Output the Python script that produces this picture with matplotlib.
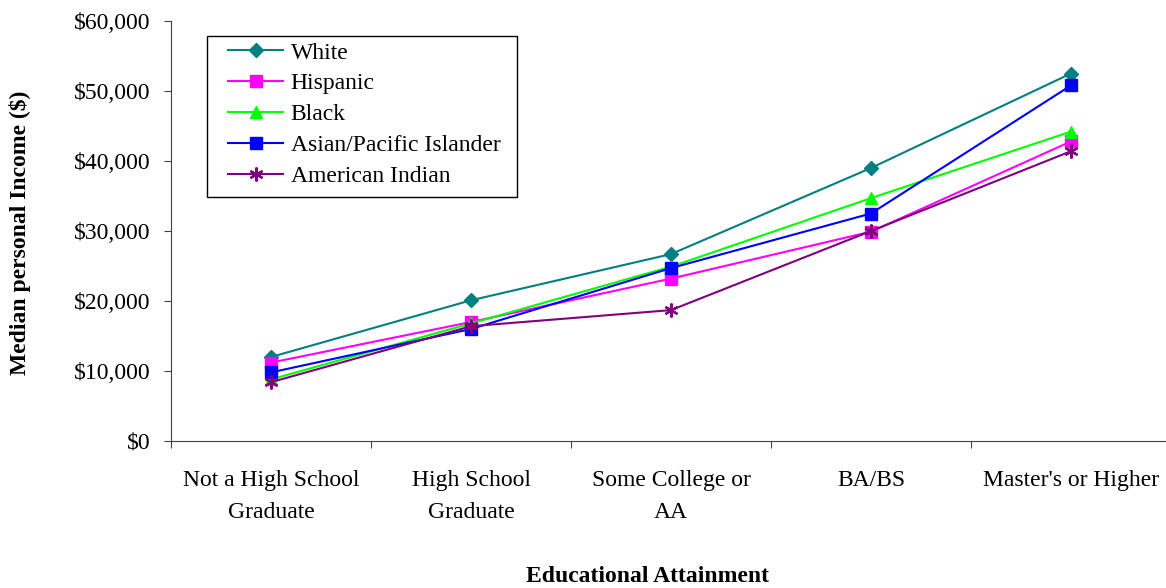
import matplotlib
matplotlib.use("Agg")
import matplotlib.pyplot as plt
from matplotlib.ticker import FuncFormatter, MultipleLocator, FixedLocator
from matplotlib.patches import Rectangle

plt.rcParams['font.family'] = ['Liberation Serif', 'DejaVu Serif']

categories = ["Not a High School\nGraduate", "High School\nGraduate", "Some College or\nAA", "BA/BS", "Master's or Higher"]
white = [12000, 20100, 26700, 39000, 52500]
hispanic = [11200, 17000, 23200, 29900, 42800]
black = [8800, 16800, 24900, 34700, 44200]
asian = [9800, 16000, 24700, 32500, 50800]
american_indian = [8400, 16400, 18700, 30000, 41400]

W, H = 1166, 588
FS = 17
fig = plt.figure(figsize=(W / 100, H / 100), dpi=100)
ax = fig.add_axes([171 / W, 1 - 441 / H, (W - 171) / W, (441 - 21) / H])

x = list(range(len(categories)))
series = [
    ("White", white, "#008080", "D", 7.5),
    ("Hispanic", hispanic, "#FF00FF", "s", 8.5),
    ("Black", black, "#00FF00", "^", 9),
    ("Asian/Pacific Islander", asian, "#0000FF", "s", 8.5),
    ("American Indian", american_indian, "#800080", (6, 2, 0), 10),
]
for name, vals, col, mk, ms in series:
    ax.plot(x, vals, color=col, marker=mk, markersize=ms, linewidth=1.5,
            markeredgecolor=col, markerfacecolor=col,
            markeredgewidth=1.6 if mk == (6, 2, 0) else 1, label=name)

ax.set_ylim(0, 60000)
ax.set_xlim(-0.5, -0.5 + (W - 171) / 200)
ax.yaxis.set_major_locator(MultipleLocator(10000))
ax.yaxis.set_major_formatter(FuncFormatter(lambda v, p: "${:,.0f}".format(v)))
ax.xaxis.set_major_locator(FixedLocator([-0.5, 0.5, 1.5, 2.5, 3.5, 4.5]))
ax.xaxis.set_major_formatter(FuncFormatter(lambda v, p: ""))
ax.set_xticks(x, minor=True)
ax.set_xticklabels(categories, minor=True, fontsize=FS, linespacing=1.65)
ax.tick_params(axis='x', which='minor', length=0, pad=21)
ax.tick_params(axis='x', which='major', length=5, direction='out', color='#404040')
ax.tick_params(axis='y', length=5, direction='out', labelsize=FS, color='#404040', pad=10)
for s in ['top', 'right']:
    ax.spines[s].set_visible(False)
for s in ['left', 'bottom']:
    ax.spines[s].set_color('#404040')

fig.text(20 / W, 1 - 233 / H, "Median personal Income ($)", rotation=90, ha='center', va='center',
         fontsize=FS, fontweight='bold')
fig.text(648 / W, 1 - 576 / H, "Educational Attainment", ha='center', va='center',
         fontsize=FS, fontweight='bold')

leg = fig.legend(*ax.get_legend_handles_labels(), loc='upper left',
                 bbox_to_anchor=(228 / W, 1 - 42 / H), bbox_transform=fig.transFigure,
                 fontsize=FS, frameon=False, borderaxespad=0, borderpad=0,
                 handlelength=2.35, handletextpad=0.3, labelspacing=0.4)
fig.add_artist(Rectangle((207 / W, 1 - 197 / H), (517 - 207) / W, (197 - 36) / H,
                         transform=fig.transFigure, fill=False, edgecolor='black', linewidth=1))

fig.savefig("out.png", dpi=100)
